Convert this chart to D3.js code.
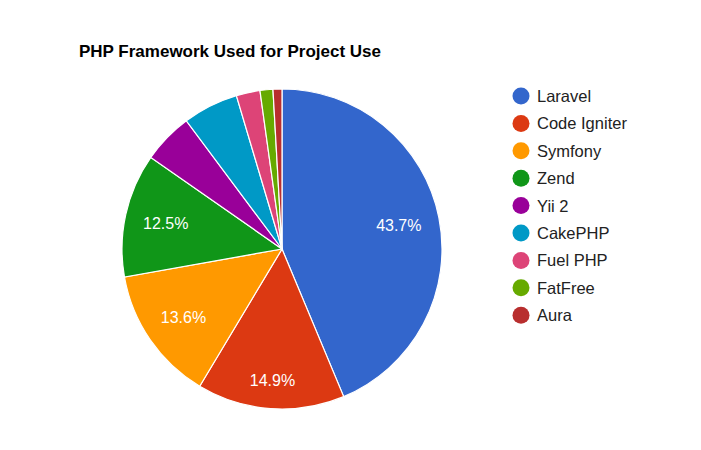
<!DOCTYPE html>
<html>
<head>
<meta charset="utf-8">
<script src="https://cdn.jsdelivr.net/npm/d3@7"></script>
<style>
  html, body { margin: 0; padding: 0; background: #fff; }
  svg { display: block; font-family: Arial, "Liberation Sans", sans-serif; }
</style>
</head>
<body>
<svg id="chart" width="701" height="450"></svg>
<script>
const categories = ["Laravel", "Code Igniter", "Symfony", "Zend", "Yii 2", "CakePHP", "Fuel PHP", "FatFree", "Aura"];
const values = [43.7, 14.9, 13.6, 12.5, 5.1, 5.6, 2.4, 1.3, 0.9];
const colors = ["#3366cc", "#dc3912", "#ff9900", "#109618", "#990099", "#0099c6", "#dd4477", "#66aa00", "#b82e2e"];
const title = "PHP Framework Used for Project Use";

const svg = d3.select("#chart");
const cx = 282, cy = 249, R = 160;

svg.append("text")
  .attr("x", 79).attr("y", 57)
  .attr("font-size", 17).attr("font-weight", "bold").attr("fill", "#000")
  .text(title);

const data = categories.map((c, i) => ({ name: c, value: values[i], color: colors[i] }));
const total = d3.sum(values);

const pie = d3.pie().value(d => d.value).sort(null);
const arcs = pie(data);
const arc = d3.arc().innerRadius(0).outerRadius(R);

const g = svg.append("g").attr("transform", `translate(${cx},${cy})`);
g.selectAll("path.slice").data(arcs).join("path")
  .attr("class", "slice")
  .attr("d", arc)
  .attr("fill", d => d.data.color)
  .attr("stroke", "#fff")
  .attr("stroke-width", 1.2);

// labels
const fmt = d3.format(".1f");
const fs = 16, R0 = 143;
arcs.forEach(a => {
  const pct = a.data.value / total * 100;
  if (pct < 10) return;
  const t = g.append("text")
    .attr("font-size", fs).attr("fill", "#fff")
    .attr("text-anchor", "middle")
    .text(fmt(pct) + "%");
  const w = t.node().getComputedTextLength();
  const h = fs;
  const mid = (a.startAngle + a.endAngle) / 2;
  const ux = Math.sin(mid), uy = -Math.cos(mid);
  const b = Math.abs(ux) * w + Math.abs(uy) * h;
  const c = (w * w + h * h) / 4 - R0 * R0;
  const d = (-b + Math.sqrt(b * b - 4 * c)) / 2;
  t.attr("x", d * ux).attr("y", d * uy).attr("dy", "0.36em");
});

// legend
const lg = svg.append("g").attr("transform", "translate(521,96)");
const rows = lg.selectAll("g").data(data).join("g")
  .attr("transform", (d, i) => `translate(0,${i * 27.4})`);
rows.append("circle").attr("r", 8.5).attr("fill", d => d.color);
rows.append("text").attr("x", 16).attr("dy", "0.36em")
  .attr("font-size", 16.5).attr("fill", "#222")
  .text(d => d.name);
</script>
</body>
</html>
